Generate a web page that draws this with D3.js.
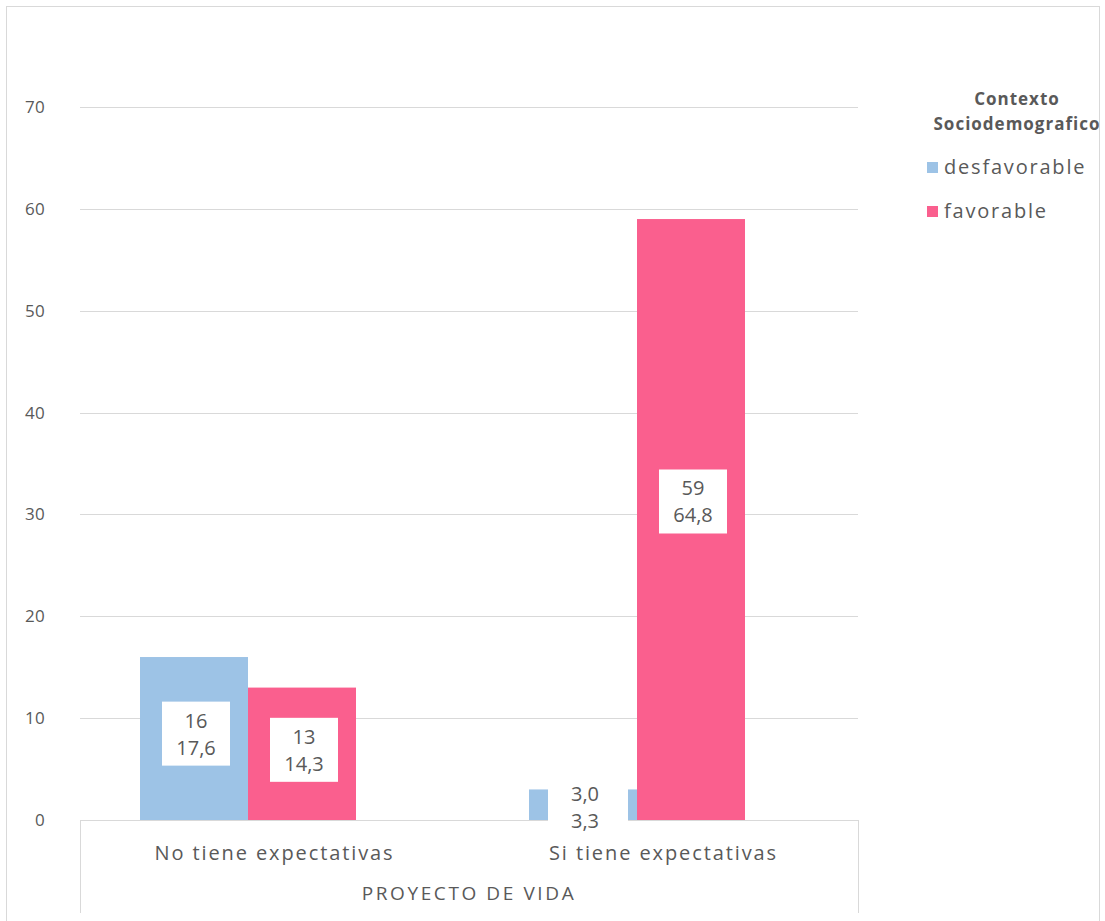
<!DOCTYPE html>
<html>
<head>
<meta charset="utf-8">
<script src="https://cdn.jsdelivr.net/npm/d3@7"></script>
<style>
    body { margin: 0; background: #fff; }
    svg text { font-family: "Open Sans", "Noto Sans", sans-serif; fill: #595959; }
</style>
</head>
<body>
<svg id="chart" width="1105" height="921"></svg>
<script>
// data
const categories = ["No tiene expectativas", "Si tiene expectativas"];
const series = ["desfavorable", "favorable"];
const colors = ["#9dc3e6", "#fa5f8e"];
const counts = [[16, 13], [3, 59]];
const countLabels = [["16", "13"], ["3,0", "59"]];
const percentLabels = [["17,6", "14,3"], ["3,3", "64,8"]];
const yTicks = [0, 10, 20, 30, 40, 50, 60, 70];
const axisTitle = "PROYECTO DE VIDA";
const legendTitle = ["Contexto", "Sociodemografico"];

const svg = d3.select("#chart");

// outer frame
svg.append("rect")
    .attr("x", 6.5).attr("y", 6.5).attr("width", 1093).attr("height", 940)
    .style("fill", "none").style("stroke", "#d9d9d9");

const plotLeft = 80, plotRight = 858, plotTop = 107, plotBottom = 820;

const y = d3.scaleLinear().domain([0, 70]).range([plotBottom, plotTop]);
const x0 = d3.scaleBand().domain(categories).range([plotLeft, plotRight]);
const x1 = d3.scaleBand().domain(series).range([0, 216]);
const groupOffset = 60;

// gridlines + tick labels
svg.selectAll("line.grid")
    .data(yTicks).enter()
    .append("line").attr("class", "grid")
    .attr("x1", plotLeft).attr("x2", plotRight)
    .attr("y1", d => Math.round(y(d)) + 0.5).attr("y2", d => Math.round(y(d)) + 0.5)
    .style("stroke", "#d9d9d9").style("stroke-width", 1);

svg.selectAll("text.tick")
    .data(yTicks).enter()
    .append("text").attr("class", "tick")
    .attr("x", 45).attr("y", d => y(d))
    .attr("dy", "0.35em")
    .attr("text-anchor", "end")
    .style("font-size", "17px")
    .style("letter-spacing", "0.3px")
    .text(d => d);

// bars
const cells = [];
categories.forEach((c, i) => series.forEach((s, j) => cells.push({
    cat: c, ser: s, j: j, value: counts[i][j],
    count: countLabels[i][j], pct: percentLabels[i][j]
})));

svg.selectAll("rect.bar")
    .data(cells).enter()
    .append("rect").attr("class", "bar")
    .attr("x", d => x0(d.cat) + groupOffset + x1(d.ser))
    .attr("width", x1.bandwidth())
    .attr("y", d => y(d.value))
    .attr("height", d => y(0) - y(d.value))
    .style("fill", d => colors[d.j]);

// x axis frame (multi-level category style)
svg.append("line")
    .attr("x1", plotLeft).attr("x2", plotRight).attr("y1", plotBottom + 0.5).attr("y2", plotBottom + 0.5)
    .style("stroke", "#d9d9d9");
svg.selectAll("line.frame")
    .data([plotLeft, plotRight]).enter()
    .append("line").attr("class", "frame")
    .attr("x1", d => d + 0.5).attr("x2", d => d + 0.5)
    .attr("y1", plotBottom).attr("y2", 913)
    .style("stroke", "#d9d9d9");

// data labels
const labels = svg.selectAll("g.label")
    .data(cells).enter()
    .append("g").attr("class", "label")
    .attr("transform", d => {
        const cx = x0(d.cat) + groupOffset + x1(d.ser) + x1.bandwidth() / 2 + 2;
        const h = y(0) - y(d.value);
        const cy = h < 64 ? y(d.value) + 18 : (y(0) + y(d.value)) / 2 - h * 0.03;
        return `translate(${[cx, cy]})`;
    });

labels.append("rect")
    .attr("x", d => d.value < 6 ? -37 : -34)
    .attr("width", d => d.value < 6 ? 80 : 68)
    .attr("y", -32).attr("height", 64)
    .style("fill", "#fff");

labels.append("text")
    .attr("text-anchor", "middle")
    .attr("y", -13)
    .attr("dy", "0.35em")
    .style("font-size", "20px")
    .text(d => d.count);
labels.append("text")
    .attr("text-anchor", "middle")
    .attr("y", 14)
    .attr("dy", "0.35em")
    .style("font-size", "20px")
    .text(d => d.pct);

// category labels
svg.selectAll("text.cat")
    .data(categories).enter()
    .append("text").attr("class", "cat")
    .attr("x", d => x0(d) + x0.bandwidth() / 2)
    .attr("y", 853)
    .attr("dy", "0.35em")
    .attr("text-anchor", "middle")
    .style("font-size", "20px")
    .style("letter-spacing", "1.9px")
    .text(d => d);

svg.append("text")
    .attr("x", (plotLeft + plotRight) / 2).attr("y", 893)
    .attr("dy", "0.35em")
    .attr("text-anchor", "middle")
    .style("font-size", "19px")
    .style("letter-spacing", "2.6px")
    .text(axisTitle);

// legend
svg.selectAll("text.ltitle")
    .data(legendTitle).enter()
    .append("text").attr("class", "ltitle")
    .attr("x", 1017).attr("y", (d, i) => 99 + i * 25)
    .attr("dy", "0.35em")
    .attr("text-anchor", "middle")
    .style("font-size", "17px")
    .style("font-weight", "bold")
    .style("letter-spacing", "1px")
    .text(d => d);

const legend = svg.selectAll("g.legend")
    .data(series).enter()
    .append("g").attr("class", "legend")
    .attr("transform", (d, i) => `translate(${[927, 167 + i * 44]})`);
legend.append("rect")
    .attr("x", 0).attr("y", -5).attr("width", 11).attr("height", 11)
    .style("fill", (d, i) => colors[i]);
legend.append("text")
    .attr("x", 17).attr("y", 0)
    .attr("dy", "0.35em")
    .style("font-size", "20px")
    .style("letter-spacing", "1.8px")
    .text(d => d);
</script>
</body>
</html>
